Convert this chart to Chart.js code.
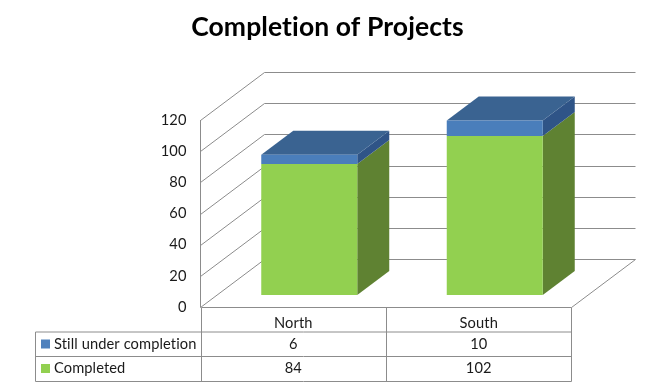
<!DOCTYPE html>
<html>
<head>
<meta charset="utf-8">
<title>Completion of Projects</title>
<script src="https://cdn.jsdelivr.net/npm/chart.js@4"></script>
<style>
  body { margin: 0; background: #fff; }
  canvas { display: block; }
</style>
</head>
<body>
<canvas id="chart" width="655" height="382"></canvas>
<script>
  const regions = ["North", "South"];
  const completed = [84, 102];
  const underCompletion = [6, 10];
  const yTicks = [0, 20, 40, 60, 80, 100, 120];

  const FONT = "Lato, 'Open Sans', sans-serif";
  const LINE = "#8c8c8c";

  // depth of the fake 3D box, and of the bars standing in the middle of it
  const WALL_DX = 64, WALL_DY = -48;
  const BAR_DX = 16, BAR_DY = -12;
  const SIDE_DX = 32, SIDE_DY = -24;

  const rowSeries = [
    { name: "Still under completion", values: underCompletion, color: "#4f81bd" },
    { name: "Completed", values: completed, color: "#92d050" },
  ];

  function line(ctx, x1, y1, x2, y2) {
    ctx.beginPath();
    ctx.moveTo(x1, y1);
    ctx.lineTo(x2, y2);
    ctx.stroke();
  }

  function poly(ctx, color, pts) {
    ctx.fillStyle = color;
    ctx.beginPath();
    pts.forEach((p, i) => (i ? ctx.lineTo(p[0], p[1]) : ctx.moveTo(p[0], p[1])));
    ctx.closePath();
    ctx.fill();
  }

  const box3d = {
    id: "box3d",
    beforeDraw(chart) {
      // small spacing keeps Lato from joining "ti" and widens it to the original's text
      chart.ctx.letterSpacing = "0.1px";
    },
    beforeDatasetsDraw(chart) {
      const { ctx, chartArea: a, scales } = chart;
      ctx.save();
      ctx.strokeStyle = LINE;
      ctx.lineWidth = 1;
      const left = a.left, right = a.right;
      // walls, one line per tick
      yTicks.forEach((v) => {
        const y = Math.round(scales.y.getPixelForValue(v)) + 0.5;
        line(ctx, left, y, left + WALL_DX, y + WALL_DY);
        line(ctx, left + WALL_DX, y + WALL_DY, right + WALL_DX, y + WALL_DY);
      });
      const y0 = Math.round(scales.y.getPixelForValue(0)) + 0.5;
      line(ctx, right, y0, right + WALL_DX, y0 + WALL_DY);
      line(ctx, left, scales.y.getPixelForValue(120), left, y0);
      ctx.restore();

      // bars are drawn pushed back into the box, restored in afterDatasetsDraw
      ctx.save();
      ctx.translate(BAR_DX, BAR_DY);
      chart.data.datasets.forEach((ds, i) => {
        chart.getDatasetMeta(i).data.forEach((bar) => {
          const xr = bar.x + bar.width / 2, xl = bar.x - bar.width / 2;
          poly(ctx, ds.sideColor, [
            [xr, bar.y], [xr + SIDE_DX, bar.y + SIDE_DY],
            [xr + SIDE_DX, bar.base + SIDE_DY], [xr, bar.base],
          ]);
          if (i === chart.data.datasets.length - 1) {
            poly(ctx, ds.topColor, [
              [xl, bar.y], [xl + SIDE_DX, bar.y + SIDE_DY],
              [xr + SIDE_DX, bar.y + SIDE_DY], [xr, bar.y],
            ]);
          }
        });
      });
    },
    afterDatasetsDraw(chart) {
      chart.ctx.restore();
    },
  };

  const dataTable = {
    id: "dataTable",
    afterDraw(chart) {
      const { ctx, chartArea: a, scales } = chart;
      const top = Math.round(a.bottom) + 0.5;
      const rows = [top + 24.5, top + 49, top + 74];
      const xs = [35.5, 201.5, 386.5, 571.5];
      ctx.save();
      ctx.strokeStyle = LINE;
      ctx.lineWidth = 1;
      line(ctx, xs[1], top, xs[3], top);
      line(ctx, xs[1], top, xs[1], rows[2]);
      line(ctx, xs[2], top, xs[2], rows[2]);
      line(ctx, xs[3], top, xs[3], rows[2]);
      line(ctx, xs[0], rows[0], xs[0], rows[2]);
      rows.forEach((y) => line(ctx, xs[0], y, xs[3], y));

      ctx.font = "14.67px " + FONT;
      ctx.textBaseline = "middle";
      rowSeries.forEach((s, r) => {
        const mid = rows[r] + 12;
        ctx.fillStyle = s.color;
        ctx.fillRect(41, mid - 4.5, 9, 9);
        ctx.fillStyle = "#1a1a1a";
        ctx.textAlign = "left";
        ctx.fillText(s.name, 54, mid);
        ctx.textAlign = "center";
        s.values.forEach((v, i) => {
          ctx.fillText(String(v), scales.x.getPixelForValue(i), mid);
        });
      });
      ctx.restore();
    },
  };

  new Chart(document.getElementById("chart"), {
    type: "bar",
    data: {
      labels: regions,
      datasets: [
        {
          label: "Completed",
          data: completed,
          backgroundColor: "#92d050",
          sideColor: "#5f8232",
          topColor: "#5f8232",
          clip: false,
        },
        {
          label: "Still under completion",
          data: underCompletion,
          backgroundColor: "#4a7ebb",
          sideColor: "#2f5487",
          topColor: "#3a6391",
          clip: false,
        },
      ],
    },
    options: {
      responsive: false,
      animation: false,
      events: [],
      categoryPercentage: 0.5175,
      barPercentage: 1,
      plugins: {
        legend: { display: false },
        tooltip: { enabled: false },
        title: {
          display: true,
          text: "Completion of Projects",
          color: "#000",
          font: { family: FONT, size: 26.5, weight: "bold", lineHeight: 1.2 },
          padding: { top: 12, bottom: 76.2 },
        },
      },
      scales: {
        x: {
          stacked: true,
          grid: { display: false, drawTicks: false },
          border: { display: false },
          ticks: { color: "#1a1a1a", padding: 7, font: { family: FONT, size: 14.67 } },
          afterFit(scale) { scale.height = 75; },
        },
        y: {
          stacked: true,
          min: 0,
          max: 120,
          grid: { display: false, drawTicks: false },
          border: { display: false },
          ticks: { stepSize: 20, color: "#1a1a1a", padding: 14, font: { family: FONT, size: 14.67 } },
          afterFit(scale) { scale.width = 200.5; },
        },
        // empty axis, only reserves the room on the right without moving the title
        spacer: {
          type: "linear",
          axis: "y",
          position: "right",
          grid: { display: false, drawTicks: false },
          border: { display: false },
          ticks: { display: false },
          afterFit(scale) { scale.width = 83.5; },
        },
      },
    },
    plugins: [box3d, dataTable],
  });
</script>
</body>
</html>
